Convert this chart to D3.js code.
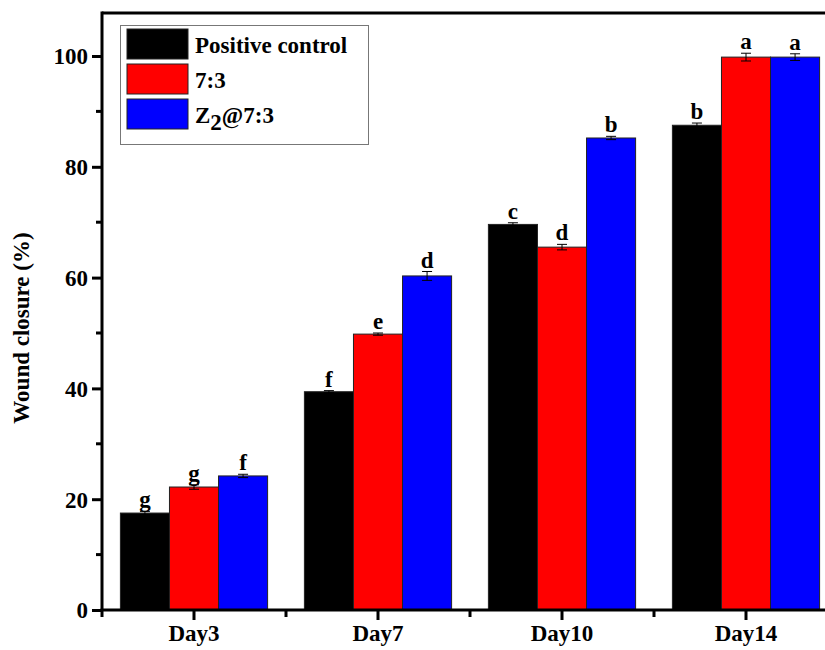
<!DOCTYPE html>
<html><head><meta charset="utf-8">
<script src="https://cdn.jsdelivr.net/npm/d3@7"></script>
<style>body{margin:0;background:#fff}svg{display:block}text{font-family:"Liberation Serif","Times New Roman",serif;font-weight:bold;fill:#000}</style>
</head><body>
<svg id="c" width="825" height="650"></svg>
<script>
const categories = ["Day3","Day7","Day10","Day14"];
const seriesNames = ["Positive control","7:3","Z2@7:3"];
const seriesColors = ["#000000","#ff0000","#0000ff"];
const positiveControl = [17.5, 39.4, 69.6, 87.5];
const ratio73 = [22.2, 49.8, 65.5, 99.8];
const z2ratio73 = [24.2, 60.3, 85.2, 99.8];
const errPositive = [0.3, 0.2, 0.3, 0.4];
const err73 = [0.4, 0.2, 0.5, 0.7];
const errZ2 = [0.3, 0.8, 0.3, 0.6];
const lettersPositive = ["g","f","c","b"];
const letters73 = ["g","e","d","a"];
const lettersZ2 = ["f","d","b","a"];
const yTicks = [0,20,40,60,80,100];
const yMinorTicks = [10,30,50,70,90];

const values = [positiveControl, ratio73, z2ratio73];
const errs = [errPositive, err73, errZ2];
const letters = [lettersPositive, letters73, lettersZ2];
const FS = 23;

const svg = d3.select("#c");
const L = 102, T = 13, B = 610;
const x = d3.scaleBand().domain(categories).range([L, L + 4*184]).paddingInner(0.2).paddingOuter(0.1);
const xs = d3.scaleBand().domain(d3.range(3)).range([0, x.bandwidth()]);
const y = d3.scaleLinear().domain([0, 100]).range([B, 56]);

// bars
categories.forEach((c, i) => {
  values.forEach((vals, s) => {
    const bx = x(c) + xs(s), bw = xs.bandwidth();
    svg.append("rect").attr("x", bx).attr("y", y(vals[i])).attr("width", bw)
      .attr("height", y(0) - y(vals[i])).attr("fill", seriesColors[s])
      .attr("stroke", "#222").attr("stroke-width", 1);
    const cx = bx + bw/2, e = errs[s][i];
    const g = svg.append("g").attr("stroke", "#000").attr("stroke-width", 1);
    g.append("line").attr("x1", cx).attr("x2", cx).attr("y1", y(vals[i]+e)).attr("y2", y(vals[i]-e));
    g.append("line").attr("x1", cx-5).attr("x2", cx+5).attr("y1", y(vals[i]+e)).attr("y2", y(vals[i]+e));
    g.append("line").attr("x1", cx-5).attr("x2", cx+5).attr("y1", y(vals[i]-e)).attr("y2", y(vals[i]-e));
    svg.append("text").attr("x", cx).attr("y", y(vals[i]+e) - 4).attr("text-anchor", "middle")
      .attr("font-size", FS).text(letters[s][i]);
  });
});

// frame
svg.append("line").attr("x1", L).attr("x2", 825).attr("y1", T).attr("y2", T).attr("stroke", "#000").attr("stroke-width", 3);
svg.append("line").attr("x1", L).attr("x2", L).attr("y1", T-1.5).attr("y2", B).attr("stroke", "#000").attr("stroke-width", 3);
svg.append("line").attr("x1", L-1.5).attr("x2", 825).attr("y1", B).attr("y2", B).attr("stroke", "#000").attr("stroke-width", 3);

// y axis
const ya = svg.append("g").attr("transform", `translate(${L},0)`)
  .call(d3.axisLeft(y).tickValues(yTicks).tickSize(10).tickPadding(4).tickFormat(d3.format("d")));
ya.select(".domain").remove();
ya.selectAll(".tick line").attr("stroke-width", 3);
ya.selectAll(".tick text").attr("font-size", FS).attr("font-family", "Liberation Serif").attr("font-weight", "bold").attr("dy", "0.34em");
yMinorTicks.forEach(v => svg.append("line").attr("x1", L-6).attr("x2", L).attr("y1", y(v)).attr("y2", y(v)).attr("stroke", "#000").attr("stroke-width", 3));

// x axis
const xa = svg.append("g").attr("transform", `translate(0,${B})`)
  .call(d3.axisBottom(x).tickSize(10).tickPadding(3));
xa.select(".domain").remove();
xa.selectAll(".tick line").attr("stroke-width", 3);
xa.selectAll(".tick text").attr("font-size", FS).attr("font-family", "Liberation Serif").attr("font-weight", "bold").attr("dy", "0.8em");
const step = x.step();
d3.range(categories.length + 1).forEach(k => {
  const xx = x(categories[0]) - x.paddingOuter()*step + k*step;
  if (xx <= 825) svg.append("line").attr("x1", xx).attr("x2", xx).attr("y1", B).attr("y2", B+7).attr("stroke", "#000").attr("stroke-width", 3);
});

// y label
svg.append("text").attr("transform", "translate(29,328) rotate(-90)").attr("text-anchor", "middle")
  .attr("font-size", FS).text("Wound closure (%)");

// legend
const lg = svg.append("g");
lg.append("rect").attr("x", 120.5).attr("y", 25.5).attr("width", 248).attr("height", 119)
  .attr("fill", "#fff").attr("stroke", "#777").attr("stroke-width", 1);
seriesNames.forEach((n, s) => {
  const yy = 29 + s*35;
  lg.append("rect").attr("x", 127).attr("y", yy).attr("width", 61).attr("height", 30)
    .attr("fill", seriesColors[s]).attr("stroke", "#222").attr("stroke-width", 1);
  const t = lg.append("text").attr("x", 195).attr("y", yy + 24).attr("font-size", FS);
  if (n === "Z2@7:3") {
    t.append("tspan").text("Z");
    t.append("tspan").attr("dy", 7).text("2");
    t.append("tspan").attr("dy", -7).text("@7:3");
  } else t.text(n);
});
</script>
</body></html>
